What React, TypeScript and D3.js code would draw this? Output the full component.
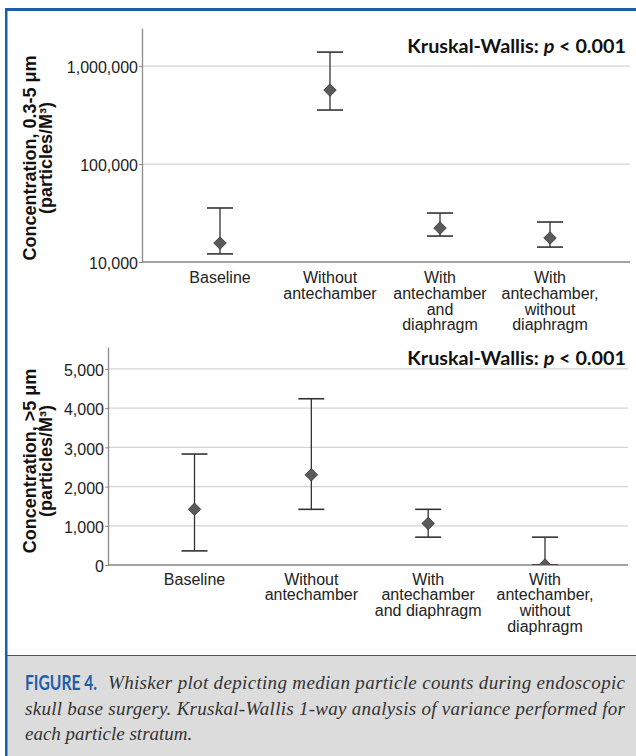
import React, { useEffect, useRef } from 'react';
import * as d3 from 'd3';

// category labels, split into lines as they appear under each axis
const topLabels = [
    ["Baseline"],
    ["Without", "antechamber"],
    ["With", "antechamber", "and", "diaphragm"],
    ["With", "antechamber,", "without", "diaphragm"],
];
const bottomLabels = [
    ["Baseline"],
    ["Without", "antechamber"],
    ["With", "antechamber", "and diaphragm"],
    ["With", "antechamber,", "without", "diaphragm"],
];

// 0.3-5 um particles (log axis)
const fineMedian = [15600, 569000, 22200, 17600];
const fineLow = [12100, 356000, 18400, 14200];
const fineHigh = [35600, 1390000, 31600, 25600];
const fineTicks = [10000, 100000, 1000000];

// >5 um particles
const coarseMedian = [1420, 2300, 1060, 0];
const coarseLow = [360, 1420, 710, 0];
const coarseHigh = [2830, 4240, 1420, 710];
const coarseTicks = [0, 1000, 2000, 3000, 4000, 5000];

const fineTitle = ["Concentration, 0.3-5 μm", "(particles/M³)"];
const coarseTitle = ["Concentration, >5 μm", "(particles/M³)"];

const captionLines = [
    "Whisker plot depicting median particle counts during endoscopic",
    "skull base surgery. Kruskal-Wallis 1-way analysis of variance performed for",
    "each particle stratum.",
];

const sans = "'Liberation Sans', Arial, sans-serif";
const calibriLike = "Lato, 'Open Sans', sans-serif";
const blue = "#1d5ea9";

function drawPanel(svg, o) {
    const g = svg.append("g");

    const x = d3.scalePoint()
        .domain(o.labels.map((d, i) => i))
        .range(o.xRange);

    // gridlines
    g.append("g")
        .selectAll("line")
        .data(o.ticks)
        .join("line")
        .attr("x1", o.left)
        .attr("x2", o.right)
        .attr("y1", d => o.y(d))
        .attr("y2", d => o.y(d))
        .attr("stroke", "#d4d4d4")
        .attr("stroke-width", 1.2);

    // y axis
    const ya = g.append("g")
        .attr("transform", `translate(${o.left},0)`)
        .call(d3.axisLeft(o.y).tickValues(o.ticks).tickFormat(d3.format(",")).tickSize(3).tickSizeOuter(0));
    ya.select(".domain").attr("stroke", "#8a8a8a").attr("stroke-width", 1.3);
    ya.selectAll(".tick line").attr("stroke", "#8a8a8a");
    ya.selectAll(".tick text")
        .attr("font-family", sans)
        .attr("font-size", 16)
        .attr("fill", "#222")
        .attr("x", -4)
        .attr("dy", "0.42em");

    // x axis line
    g.append("line")
        .attr("x1", o.left)
        .attr("x2", o.right)
        .attr("y1", o.y.range()[0])
        .attr("y2", o.y.range()[0])
        .attr("stroke", "#8a8a8a")
        .attr("stroke-width", 1.5);

    // category labels
    const lab = g.append("g")
        .selectAll("text")
        .data(o.labels)
        .join("text")
        .attr("text-anchor", "middle")
        .attr("font-family", sans)
        .attr("font-size", 16)
        .attr("fill", "#222");
    lab.selectAll("tspan")
        .data((d, i) => d.map(t => ({ t, i })))
        .join("tspan")
        .attr("x", d => x(d.i))
        .attr("y", (d, j) => o.labelY + j * 15.8)
        .text(d => d.t);

    // whiskers, clipped to the plot area
    const clipId = "clip" + o.id;
    svg.append("clipPath").attr("id", clipId)
        .append("rect")
        .attr("x", o.left)
        .attr("y", o.y.range()[1] - 10)
        .attr("width", o.right - o.left)
        .attr("height", o.y.range()[0] - o.y.range()[1] + 10);

    const m = g.append("g").attr("clip-path", `url(#${clipId})`);
    const idx = o.median.map((d, i) => i);
    const cap = 13;

    m.selectAll(".stem")
        .data(idx)
        .join("line")
        .attr("x1", i => x(i))
        .attr("x2", i => x(i))
        .attr("y1", i => o.y(o.low[i]))
        .attr("y2", i => o.y(o.high[i]))
        .attr("stroke", "#333")
        .attr("stroke-width", 1.3);

    [o.low, o.high].forEach(arr => {
        m.append("g")
            .selectAll("line")
            .data(idx)
            .join("line")
            .attr("x1", i => x(i) - cap)
            .attr("x2", i => x(i) + cap)
            .attr("y1", i => o.y(arr[i]))
            .attr("y2", i => o.y(arr[i]))
            .attr("stroke", "#333")
            .attr("stroke-width", 1.6);
    });

    m.append("g")
        .selectAll("path")
        .data(idx)
        .join("path")
        .attr("d", d3.symbol(d3.symbolDiamond2, 100))
        .attr("transform", i => `translate(${x(i)},${o.y(o.median[i])})`)
        .attr("fill", "#5a5a5a")
        .attr("stroke", "#2e2e2e")
        .attr("stroke-width", 0.8);

    // axis title
    const t = g.append("text")
        .attr("transform", `translate(0,${o.titleY}) rotate(-90)`)
        .attr("text-anchor", "middle")
        .attr("font-family", sans)
        .attr("font-weight", "bold")
        .attr("font-size", 18)
        .attr("fill", "#111");
    t.selectAll("tspan")
        .data(o.title)
        .join("tspan")
        .attr("x", 0)
        .attr("y", (d, j) => 36 + j * 16)
        .text(d => d);

    // test label
    const k = g.append("text")
        .attr("x", 626)
        .attr("y", o.kwY)
        .attr("text-anchor", "end")
        .attr("font-family", calibriLike)
        .attr("font-weight", "bold")
        .attr("font-size", 19.8)
        .attr("fill", "#111");
    k.append("tspan").text("Kruskal-Wallis: ");
    k.append("tspan").attr("font-style", "italic").text("p");
    k.append("tspan").text(" < 0.001");
}

function App() {
    const ref = useRef(null);

    useEffect(() => {
        const svg = d3.select(ref.current);
        svg.selectAll("*").remove();

        svg.append("rect").attr("width", 636).attr("height", 756).attr("fill", "white");

        const yTop = d3.scaleLog().domain([10000, 2450000]).range([262, 28]);
        drawPanel(svg, {
            id: "top",
            labels: topLabels,
            median: fineMedian, low: fineLow, high: fineHigh,
            ticks: fineTicks,
            y: yTop,
            left: 142, right: 630,
            xRange: [220, 550],
            labelY: 283,
            title: fineTitle,
            titleY: 158,
            kwY: 53,
        });

        const yBot = d3.scaleLinear().domain([0, 5560]).range([565, 347]);
        drawPanel(svg, {
            id: "bot",
            labels: bottomLabels,
            median: coarseMedian, low: coarseLow, high: coarseHigh,
            ticks: coarseTicks,
            y: yBot,
            left: 108, right: 628,
            xRange: [194.5, 545],
            labelY: 584.5,
            title: coarseTitle,
            titleY: 461,
            kwY: 365,
        });

        // frame and caption panel
        svg.append("rect").attr("x", 7).attr("y", 655).attr("width", 629).attr("height", 101).attr("fill", "#dcdcdc");
        svg.append("line").attr("x1", 7).attr("x2", 636).attr("y1", 655.5).attr("y2", 655.5)
            .attr("stroke", blue).attr("stroke-width", 1.2);
        svg.append("rect").attr("x", 5).attr("y", 8).attr("width", 631).attr("height", 3).attr("fill", blue);
        svg.append("rect").attr("x", 5).attr("y", 8).attr("width", 2.5).attr("height", 748).attr("fill", blue);

        const cap = svg.append("g").attr("font-family", "'Liberation Serif', serif").attr("font-style", "italic")
            .attr("font-size", 19).attr("fill", "#333");
        svg.append("text")
            .attr("x", 25).attr("y", 690)
            .attr("font-family", calibriLike).attr("font-weight", "bold").attr("font-size", 20)
            .attr("textLength", 72).attr("lengthAdjust", "spacingAndGlyphs")
            .attr("fill", blue)
            .text("FIGURE 4.");
        cap.append("text").attr("x", 108).attr("y", 689)
            .attr("textLength", 517).attr("lengthAdjust", "spacing").text(captionLines[0]);
        cap.append("text").attr("x", 25).attr("y", 714.5)
            .attr("textLength", 600).attr("lengthAdjust", "spacing").text(captionLines[1]);
        cap.append("text").attr("x", 25).attr("y", 740).text(captionLines[2]);
    }, []);

    return (
        <svg
            ref={ref}
            width={636}
            height={756}
            style={{ position: "absolute", left: 0, top: 0 }}
        />
    );
}

export default App;
